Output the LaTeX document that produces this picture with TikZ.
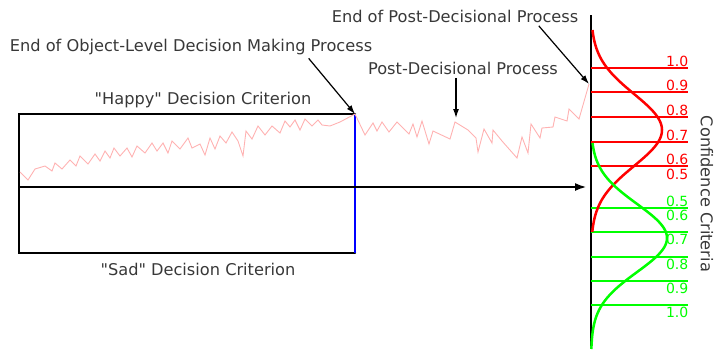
\documentclass[tikz,border=0pt]{standalone}
\usepackage{fontspec}
\setmainfont{DejaVu Sans}
\usetikzlibrary{arrows.meta}

\begin{document}
\begin{tikzpicture}[x=1pt, y=-1pt, >={Latex[length=9pt, width=6pt]},
    every node/.style={text=black!78, font=\fontsize{16.2}{19}\selectfont},
    crit/.style={line width=2.5pt, black},
    level/.style={line width=2pt},
    bell/.style={line width=2.5pt},
    lbl/.style={inner sep=1.5pt, font=\fontsize{14}{16}\selectfont}]
    \useasboundingbox (0,0) rectangle (715,349);

    % decision box
    \draw[crit, line cap=round] (355,114) -- (19,114) -- (19,253) -- (355,253);
    \draw[line width=1.5pt, blue] (355,114) -- (355,253);
    \node (happy) at (203,100) {\textquotedbl Happy\textquotedbl{} Decision Criterion};
    \node (sad) at (198,269) {\textquotedbl Sad\textquotedbl{} Decision Criterion};

    % evidence trace
    \draw[red!30, line width=0.9pt] plot coordinates {(20,172) (28,180) (35,169) (45,166) (52,171) (55,163)
        (62,169) (70,160) (76,166) (80,156) (88,164) (95,154) (100,161) (105,151) (110,158) (114,148)
        (120,156) (127,148) (132,157) (137,146) (145,153) (152,143) (157,151) (163,143) (168,153)
        (172,141) (180,149) (188,138) (192,148) (200,144) (205,155) (210,138) (215,149) (220,136)
        (226,143) (232,132) (238,141) (243,156) (246,131) (252,139) (258,126) (265,135) (272,126)
        (280,133) (285,121) (290,127) (295,120) (300,130) (305,119) (312,126) (318,120) (322,125)
        (330,126) (340,122) (355,114)
        (365,135) (373,123) (377,131) (382,122) (389,132) (397,122) (409,134) (413,124) (417,137)
        (422,121) (429,144) (433,131) (450,139) (455,122) (468,130) (476,138) (478,152) (484,129)
        (492,143) (493,130) (502,141) (517,158) (522,137) (528,153) (531,124) (540,138) (542,128)
        (553,127) (555,117) (567,121) (569,109) (579,119) (589,84)};

    % time axis and confidence axis
    \draw[->, crit, >={Latex[length=12pt, width=8pt]}] (19,187) -- (587,187);
    \draw[crit] (591,15) -- (591,349);

    \coordinate (decide) at (355,114);
    \coordinate (finish) at (589,84);
    \coordinate (peak) at (456,122);

    \node (objend) at (191,47) {End of Object-Level Decision Making Process};
    \node (postend) at (455,16) {End of Post-Decisional Process};
    \node (post) at (463,68) {Post-Decisional Process};
    \draw[->, line width=1.2pt] ([xshift=-67pt]objend.south east) -- (decide);
    \draw[->, line width=1.2pt] ([xshift=-43pt]postend.south east) -- (finish);
    \draw[->, line width=1.2pt, shorten >=4pt] ([xshift=-7pt]post.south) -- (peak);

    % "happy" confidence levels
    \foreach \y/\v in {68/1.0, 92/0.9, 117/0.8, 142/0.7, 166/0.6} {
        \draw[level, red] (591,\y) -- (688,\y);
        \node[lbl, text=red, anchor=south east] at (690,\y) {\v};
    }
    \node[lbl, text=red, anchor=north east] (rhalf) at (690,167) {0.5};

    % "sad" confidence levels
    \foreach \y/\v in {208/0.6, 232/0.7, 257/0.8, 281/0.9, 305/1.0} {
        \draw[level, green] (591,\y) -- (688,\y);
        \node[lbl, text=green, anchor=north east] at (690,\y) {\v};
    }
    \node[lbl, text=green, anchor=south east] (ghalf) at (690,208) {0.5};

    \draw[bell, red] plot[domain=30:232, samples=90, smooth]
        ({591+71*exp(-((\x-130)^2)/2592)}, \x);
    \draw[bell, green] plot[domain=143:349, samples=90, smooth]
        ({591+76*exp(-((\x-238)^2)/2312)}, \x);

    \node[rotate=-90, inner sep=1pt] (conf) at (707,194) {Confidence Criteria};
\end{tikzpicture}
\end{document}
